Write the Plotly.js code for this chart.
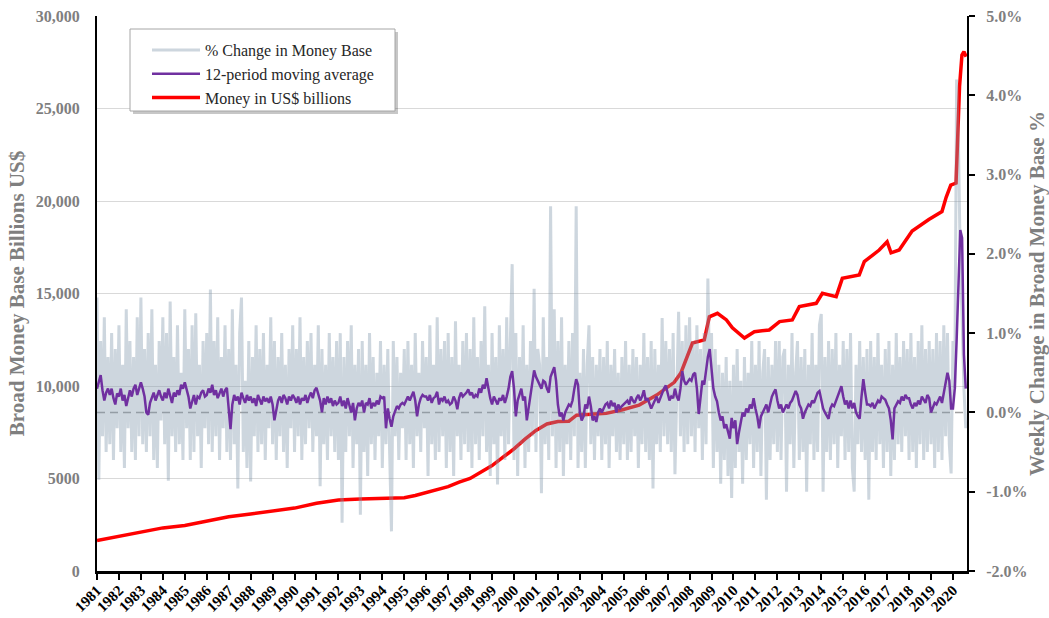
<!DOCTYPE html>
<html>
<head>
<meta charset="utf-8">
<script src="https://cdn.plot.ly/plotly-3.0.1.min.js"></script>
<style>
  html, body { margin: 0; padding: 0; background: #ffffff; }
  #chart { width: 1049px; height: 618px; }
</style>
</head>
<body>
<div id="chart"></div>
<script>
// ---------------- DATA ----------------
// Monthly samples of the weekly % change in the money base, starting Jan 1981
const pctChange1980s = [
  1.45,-0.85,0.9,-0.3,1.2,-0.5,0.7,-0.4,1.0,-0.6,0.8,-0.2,
  1.1,-0.5,0.6,-0.7,1.3,-0.2,0.9,-0.5,0.7,-0.6,1.2,-0.3,
  1.45,-0.4,0.8,-0.5,1.0,-0.3,1.3,-0.6,0.6,-0.7,0.9,-0.1,
  1.2,-0.4,1.0,-0.86,1.4,-0.3,0.7,-0.5,1.1,-0.4,0.5,-0.6,
  1.3,-0.2,0.8,-0.6,1.1,-0.5,1.25,-0.3,0.6,-0.7,0.9,-0.2,
  1.0,-0.4,1.55,-0.5,0.9,-0.3,1.2,-0.6,0.7,-0.2,1.1,-0.5,
  0.8,-0.6,1.3,-0.4,0.6,-0.96,1.0,1.45,-0.5,0.4,-0.7,0.9,
  -0.87,0.7,-0.3,1.1,-0.5,0.8,-0.4,1.0,-0.6,0.6,-0.2,1.2,
  -0.4,0.9,-0.6,0.7,-0.3,1.0,-0.5,0.6,-0.7,0.8,-0.2,1.1,
  -0.5,0.8,-0.3,1.2,-0.6,0.7,-0.4,0.9,-0.2,1.0,-0.5,0.6
];
const pctChange1990s = [
  -0.3,1.1,-0.93,0.8,-0.4,0.6,-0.6,1.0,-0.3,0.7,-0.5,0.9,
  -0.6,1.0,-1.39,0.7,-0.5,0.9,-0.3,1.1,-0.7,0.6,-0.4,0.8,
  -1.29,0.9,-0.5,0.6,-0.8,1.0,-0.4,0.7,-0.6,0.5,-0.3,0.9,
  -0.7,0.6,-0.4,0.8,-0.5,-1.5,0.9,-0.3,0.7,-0.6,0.5,-0.2,
  0.8,-0.6,0.9,-0.4,0.6,-0.7,1.0,-0.3,0.5,-0.5,0.9,-0.2,
  0.7,-0.8,1.1,-0.4,0.6,-0.6,1.2,-0.5,0.8,-0.3,0.9,-0.7,
  1.0,-0.5,0.7,-0.8,1.15,-0.3,0.6,-0.6,0.9,-0.4,1.0,-0.5,
  0.8,-0.7,1.2,-0.4,0.7,-0.6,0.9,-0.3,1.34,-0.5,0.6,-0.8,
  1.0,-0.4,0.7,-0.91,1.1,-0.3,0.8,-0.6,1.2,-0.4,0.9,1.87,
  -0.6,1.0,-0.8,0.7,-0.4,1.1,-0.7,0.6,-0.5,0.9,-0.3,1.56
];
const pctChange2000s = [
  -0.5,0.8,0.6,-1.02,1.2,-0.4,0.7,-0.6,2.6,-0.3,1.3,-0.7,
  0.9,-0.5,1.2,-0.8,0.6,-0.4,0.9,-0.6,1.0,-0.3,2.6,-0.7,
  0.5,-0.5,0.8,-0.7,0.6,1.1,-0.4,0.7,-0.6,0.6,-0.3,0.8,
  -0.6,0.7,-0.4,0.9,-0.7,0.6,-0.3,0.8,-0.5,0.5,-0.6,0.7,
  -0.4,0.9,-0.6,0.6,-0.5,0.8,-0.3,0.7,-0.7,0.6,-0.4,1.0,
  -0.5,0.7,-0.6,0.9,-0.96,0.8,-0.4,0.6,-0.5,1.19,-0.3,0.9,
  -0.4,0.8,-0.5,1.0,-0.78,0.5,1.27,-0.3,0.9,-0.5,1.1,-0.4,
  1.2,-0.3,0.9,-0.5,1.1,-0.2,0.8,-0.6,1.0,-0.4,1.69,0.4,
  1.0,-0.7,0.8,-0.5,0.6,-0.9,0.5,-0.6,0.7,-0.8,0.4,-1.08,
  0.6,-0.7,0.8,-0.5,0.4,-0.9,0.7,-0.6,0.5,-0.4,0.9,-0.7
];
const pctChange2010s = [
  0.6,-0.5,0.9,-0.8,0.5,0.8,-1.1,0.7,-0.6,0.6,-0.4,0.9,
  -0.5,0.9,-0.6,0.7,0.8,-1.0,0.6,-0.4,1.0,-0.7,0.5,0.9,
  -0.6,0.7,-0.5,0.8,-1.0,0.6,-0.4,1.0,-0.6,0.6,-0.5,1.1,
  1.24,-1.0,0.7,-0.5,0.9,-0.6,0.8,-0.4,1.0,-0.7,0.6,-0.3,
  0.9,-0.6,0.8,-0.5,1.0,-0.7,-1.0,0.6,-0.4,0.9,-0.5,0.7,
  -0.6,0.8,-1.1,0.9,-0.5,0.7,-0.6,1.0,-0.4,0.6,-0.7,0.8,
  -0.5,0.9,-0.8,0.6,-0.6,1.0,-0.4,0.7,-0.5,0.9,-0.3,0.8,
  -0.6,1.0,-0.5,0.7,-0.7,0.9,-0.4,1.1,-0.6,0.8,-0.5,0.9,
  -0.4,0.8,-0.7,1.0,-0.5,0.9,-0.6,1.1,-0.3,1.0,-0.4,-0.77
];
const pctChange2020 = [0.9,0.3,4.2,3.4,1.9,1.2,0.3,-0.2];

// 12-period moving average (monthly samples, same dates)
const movAvg1980s = [
  0.3,0.38,0.47,0.28,0.15,0.25,0.3,0.22,0.3,0.18,0.1,0.24,
  0.2,0.3,0.15,0.22,0.08,0.18,0.28,0.2,0.3,0.35,0.22,0.3,
  0.38,0.3,0.2,0.0,-0.03,0.12,0.2,0.25,0.15,0.22,0.28,0.2,
  0.15,0.25,0.18,0.3,0.22,0.12,0.25,0.2,0.28,0.22,0.35,0.3,
  0.38,0.28,0.2,0.05,0.15,0.22,0.1,0.2,0.18,0.25,0.28,0.2,
  0.22,0.3,0.25,0.35,0.22,0.28,0.18,0.24,0.3,0.2,0.28,0.31,
  0.05,-0.21,0.1,0.22,0.15,0.2,0.1,0.25,0.18,0.12,0.22,0.15,
  0.2,0.12,0.18,0.08,0.22,0.15,0.1,0.2,0.14,0.18,0.12,0.2,
  0.1,-0.1,0.05,0.15,0.2,0.12,0.22,0.18,0.1,0.2,0.15,0.22,
  0.18,0.12,0.2,0.1,0.18,0.15,0.22,0.12,0.2,0.25,0.18,0.28
];
const movAvg1990s = [
  0.31,0.22,0.15,0.0,0.18,0.1,0.2,0.12,0.18,0.08,0.15,0.1,
  0.12,0.2,0.08,0.15,0.05,0.18,0.1,0.0,0.12,-0.1,0.05,0.12,
  0.08,0.15,0.0,0.12,0.1,0.18,0.05,0.12,0.08,0.15,0.1,0.2,
  0.18,0.2,-0.2,0.05,-0.08,-0.18,-0.05,0.02,0.08,0.05,0.1,0.12,
  0.1,0.15,0.2,0.15,0.2,0.26,0.15,-0.05,0.1,0.18,0.22,0.2,
  0.2,0.15,0.22,0.12,0.18,0.2,0.26,0.1,0.18,0.15,0.2,0.12,
  0.15,0.1,0.12,0.2,0.15,0.04,0.18,0.25,0.2,0.22,0.25,0.29,
  0.22,0.25,0.18,0.22,0.2,0.3,0.25,0.35,0.3,0.43,0.3,0.18,
  0.1,0.2,0.15,0.1,0.18,0.15,0.22,0.12,0.2,0.3,0.45,0.52,
  0.3,-0.05,0.15,0.22,0.3,0.15,0.2,-0.1,0.05,0.2,0.35,0.53
];
const movAvg2000s = [
  0.45,0.4,0.35,0.3,0.4,0.38,0.3,0.25,0.45,0.5,0.57,0.4,
  0.1,-0.05,0.0,-0.1,0.0,0.05,0.1,0.08,0.15,0.3,0.42,0.35,
  0.0,-0.1,-0.05,0.1,0.05,0.2,0.08,-0.1,-0.05,-0.12,0.0,0.05,
  0.0,0.05,0.1,0.12,0.05,0.15,0.08,0.12,0.0,0.1,0.05,0.08,
  0.1,0.12,0.15,0.1,0.2,0.15,0.12,0.18,0.22,0.15,0.2,0.28,
  0.15,0.18,0.1,0.05,0.1,0.15,0.2,0.12,0.18,0.25,0.3,0.34,
  0.25,0.15,0.2,0.18,0.3,0.2,0.15,0.3,0.52,0.4,0.35,0.39,
  0.42,0.4,0.48,0.5,0.3,-0.02,0.2,0.4,0.35,0.55,0.7,0.8,
  0.5,0.3,0.2,0.14,0.0,-0.1,-0.05,-0.2,-0.15,-0.25,-0.33,-0.07,
  -0.2,-0.1,-0.4,-0.25,-0.1,0.0,-0.05,0.05,0.0,0.1,0.05,0.18
];
const movAvg2010s = [
  0.05,-0.05,-0.2,-0.05,0.0,0.05,0.1,0.0,0.12,0.2,0.25,0.29,
  0.15,0.05,0.1,0.0,0.05,0.1,0.05,0.12,0.15,0.2,0.27,0.22,
  0.1,0.05,-0.08,0.0,0.05,0.1,0.08,0.15,0.12,0.2,0.25,0.27,
  0.15,0.05,0.0,-0.05,-0.08,0.05,0.1,0.08,0.15,0.2,0.28,0.33,
  0.2,0.1,0.15,0.05,0.15,0.05,0.12,0.0,-0.05,-0.08,0.2,0.42,
  0.25,0.1,0.1,0.08,0.12,0.05,0.1,0.15,0.12,0.2,0.18,0.16,
  0.1,0.05,-0.1,-0.34,0.05,0.1,0.14,0.12,0.2,0.15,0.22,0.18,
  0.18,0.1,0.05,0.12,0.08,0.15,0.1,0.2,0.15,0.12,0.22,0.18,
  0.0,0.05,0.12,0.1,0.15,0.2,0.12,0.25,0.35,0.5,0.4,0.05
];
const movAvg2020 = [0.05,0.3,0.9,1.6,2.3,2.2,0.73,0.3];

// Money base in US$ billions (date as decimal year, value)
const moneyYears = [1981.0,1982.0,1983.0,1984.0,1985.0,1986.0,1987.0,1988.0,1989.0,1990.0,
  1991.0,1992.0,1993.0,1994.0,1995.0,1995.5,1996.0,1996.5,1997.0,1997.5,1998.0,1998.5,
  1999.0,1999.5,2000.0,2000.5,2001.0,2001.5,2002.0,2002.5,2002.85,2003.5,2004.2,2004.9,
  2005.7,2006.5,2007.3,2007.6,2007.9,2008.13,2008.67,2008.9,2009.27,2009.68,2009.95,
  2010.5,2010.95,2011.63,2012.1,2012.68,2013.0,2013.77,2014.05,2014.68,2014.96,2015.73,
  2015.96,2016.64,2017.0,2017.18,2017.55,2018.14,2018.9,2019.5,2019.69,2019.9,2020.14,
  2020.23,2020.3,2020.41,2020.5,2020.6];
const moneyValues = [1650,1880,2120,2330,2460,2700,2930,3080,3230,3400,
  3660,3840,3890,3940,3960,4080,4230,4400,4560,4800,5000,5350,
  5700,6150,6600,7130,7600,7950,8080,8100,8420,8470,8520,8700,
  8970,9510,10200,10700,11580,12320,12490,13740,13930,13570,13140,
  12590,12930,13030,13480,13570,14290,14470,15010,14830,15820,16000,
  16720,17350,17800,17200,17350,18380,19000,19430,20200,20860,20970,
  24380,26180,27890,28070,27800];

const startYear = 1981;
const samplesPerYear = 12;
const yearTicks = [];
for (let y = 1981; y <= 2020; y++) yearTicks.push(y);
const leftTickVals = [0, 5000, 10000, 15000, 20000, 25000, 30000];
const leftTickText = ['0', '5000', '10,000', '15,000', '20,000', '25,000', '30,000'];
const rightTickVals = [-2, -1, 0, 1, 2, 3, 4, 5];
const rightTickText = ['-2.0%', '-1.0%', '0.0%', '1.0%', '2.0%', '3.0%', '4.0%', '5.0%'];

// ---------------- BUILD ----------------
const pctChange = [].concat(pctChange1980s, pctChange1990s, pctChange2000s, pctChange2010s, pctChange2020);
const movAvg = [].concat(movAvg1980s, movAvg1990s, movAvg2000s, movAvg2010s, movAvg2020);
const pctDates = pctChange.map((_, i) => startYear + i / samplesPerYear);
const maDates = movAvg.map((_, i) => startYear + i / samplesPerYear);

const SERIF = 'Liberation Serif, Times New Roman, serif';

const traces = [
  {
    x: moneyYears, y: moneyValues, yaxis: 'y', type: 'scatter', mode: 'lines',
    name: 'Money in US$ billions', legendrank: 3,
    line: { color: '#ff0000', width: 3.5 }
  },
  {
    x: pctDates, y: pctChange, yaxis: 'y2', type: 'scatter', mode: 'lines',
    name: '% Change in Money Base', legendrank: 1,
    line: { color: 'rgba(130,152,172,0.4)', width: 3 }
  },
  {
    x: maDates, y: movAvg, yaxis: 'y2', type: 'scatter', mode: 'lines',
    name: '12-period moving average', legendrank: 2,
    line: { color: '#7030a0', width: 2.5 }
  }
];

const PL = 97, PR = 967, PT = 16, PB = 571;
const px2x = p => (p - PL) / (PR - PL);
const px2y = p => (PB - p) / (PB - PT);

const layout = {
  width: 1049, height: 618,
  margin: { l: PL, r: 1049 - PR, t: PT, b: 618 - PB, pad: 0 },
  paper_bgcolor: '#ffffff', plot_bgcolor: '#ffffff',
  showlegend: true,
  font: { family: SERIF },
  xaxis: {
    range: [1981, 2020.64], tickvals: yearTicks, ticktext: yearTicks.map(String),
    tickangle: -45, ticks: 'outside', ticklen: 6, tickwidth: 2, tickcolor: '#000',
    showline: true, linecolor: '#000', linewidth: 2.5, showgrid: false, zeroline: false,
    tickfont: { family: SERIF, size: 15, color: '#000', weight: 'bold' },
    ticklabelstandoff: -4,
    automargin: false
  },
  yaxis: {
    range: [0, 30000], tickvals: leftTickVals, ticktext: leftTickText,
    showline: true, linecolor: '#000', linewidth: 2, ticks: '',
    showgrid: true, gridcolor: '#d9d9d9', gridwidth: 1, zeroline: false,
    tickfont: { family: SERIF, size: 16, color: '#7f7f7f', weight: 'bold' },
    ticklabelstandoff: 12,
    title: { text: 'Broad Money Base Billions US$', font: { family: SERIF, size: 21, color: '#7f7f7f', weight: 'bold' }, standoff: 5 },
    automargin: false
  },
  yaxis2: {
    overlaying: 'y', side: 'right', range: [-2, 5],
    tickvals: rightTickVals, ticktext: rightTickText,
    showline: true, linecolor: '#000', linewidth: 2, ticks: 'outside', ticklen: 6, tickwidth: 2, tickcolor: '#000',
    showgrid: false, zeroline: false,
    tickfont: { family: SERIF, size: 16, color: '#7f7f7f', weight: 'bold' },
    ticklabelstandoff: 8,
    title: { text: 'Weekly Change in Broad Money Base %', font: { family: SERIF, size: 21, color: '#7f7f7f', weight: 'bold' }, standoff: 12 },
    automargin: false
  },
  legend: {
    x: px2x(147), y: px2y(33), xanchor: 'left', yanchor: 'top',
    bgcolor: 'rgba(0,0,0,0)', borderwidth: 0, itemwidth: 48,
    font: { family: SERIF, size: 16, color: '#262626' }
  },
  shapes: [
    { type: 'line', xref: 'paper', x0: 0, x1: 1, yref: 'y2', y0: 0, y1: 0,
      line: { color: '#a0a0a0', width: 1.5, dash: '8px,5px' }, layer: 'below' },
    { type: 'rect', xref: 'paper', yref: 'paper', x0: px2x(133), x1: px2x(398), y0: px2y(114), y1: px2y(32),
      fillcolor: 'rgba(0,0,0,0.22)', line: { width: 0 }, layer: 'above' },
    { type: 'rect', xref: 'paper', yref: 'paper', x0: px2x(130), x1: px2x(395), y0: px2y(111), y1: px2y(29),
      fillcolor: '#ffffff', line: { color: '#a6a6a6', width: 1 }, layer: 'above' }
  ]
};

Plotly.newPlot('chart', traces, layout, { displayModeBar: false, responsive: false });
</script>
</body>
</html>
